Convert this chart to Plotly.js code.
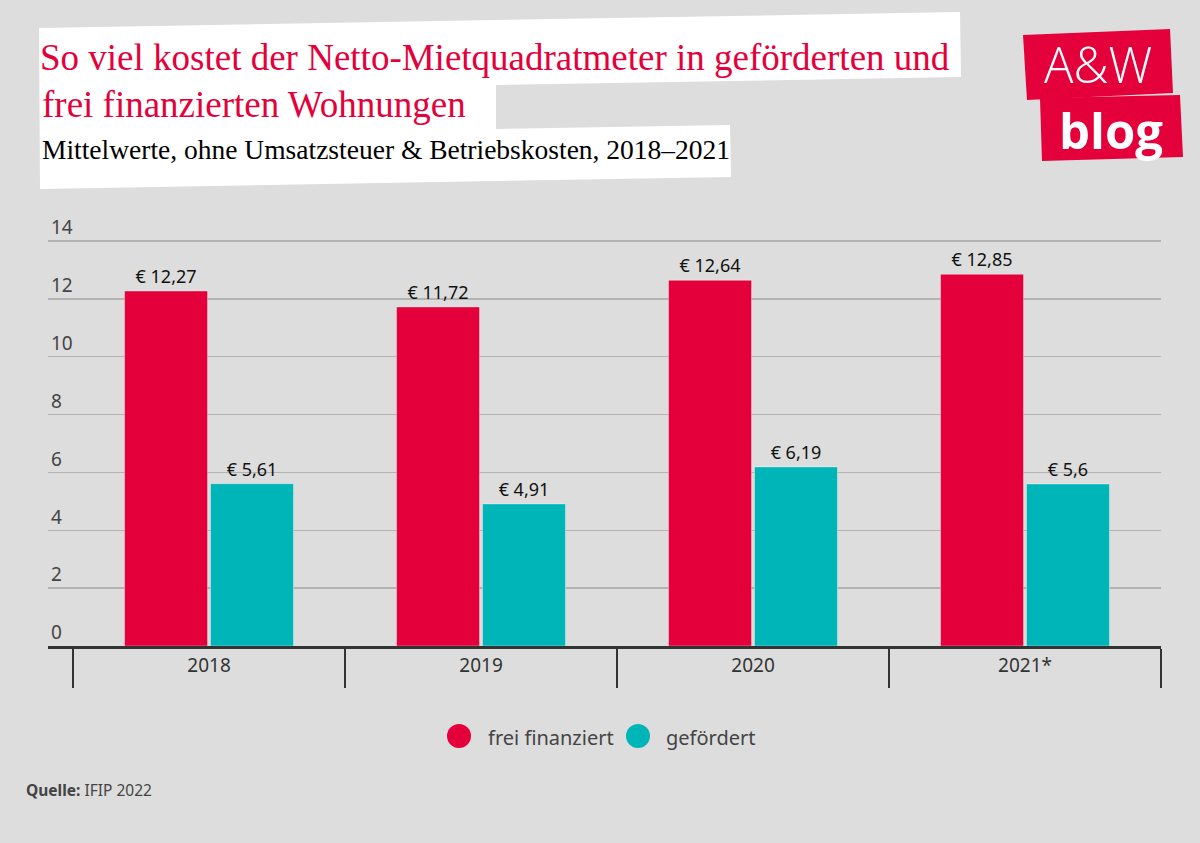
<!DOCTYPE html>
<html>
<head>
<meta charset="utf-8">
<script src="https://cdn.plot.ly/plotly-3.0.1.min.js"></script>
<style>html,body{margin:0;padding:0;background:#dddddd;}#chart{width:1200px;height:843px;}</style>
</head>
<body>
<div id="chart"></div>
<script>
// ---- data ----
const years = ["2018", "2019", "2020", "2021*"];
const freiFinanziert = [12.27, 11.72, 12.64, 12.85];
const gefoerdert = [5.61, 4.91, 6.19, 5.6];
const seriesNames = ["frei finanziert", "gefördert"];
const yTicks = [0, 2, 4, 6, 8, 10, 12, 14];

const titleLine1 = "So viel kostet der Netto-Mietquadratmeter in geförderten und";
const titleLine2 = "frei finanzierten Wohnungen";
const subtitle = "Mittelwerte, ohne Umsatzsteuer &amp; Betriebskosten, 2018–2021";
const source = "<b>Quelle:</b> IFIP 2022";

// ---- styling ----
const RED = "#e4003a";
const TEAL = "#00b5b8";
const W = 1200, H = 843;
const L = 48, R = 1161, T = 211, B = 646;
const Y14 = 241;                       // pixel row of the value 14
const yMax = 14 * (B - T) / (B - Y14);  // axis range top so that 14 sits at Y14
const px = x => (x - L) / (R - L);
const py = y => (B - y) / (B - T);
const fmt = v => "€ " + String(v).replace(".", ",");
const pathFrom = pts => pts.map((p, i) => (i ? "L" : "M") + px(p[0]).toFixed(5) + "," + py(p[1]).toFixed(5)).join(" ") + " Z";

const labelFont = {family: "Noto Sans, sans-serif", size: 18, color: "#111"};

const traces = [
  {
    type: "bar", name: seriesNames[0], x: years, y: freiFinanziert,
    text: freiFinanziert.map(fmt), textposition: "outside", cliponaxis: false,
    textfont: labelFont, marker: {color: RED, line: {color: "rgba(255,255,255,0.35)", width: 1}},
    hoverinfo: "skip", showlegend: false
  },
  {
    type: "bar", name: seriesNames[1], x: years, y: gefoerdert,
    text: gefoerdert.map(fmt), textposition: "outside", cliponaxis: false,
    textfont: labelFont, marker: {color: TEAL, line: {color: "rgba(255,255,255,0.35)", width: 1}},
    hoverinfo: "skip", showlegend: false
  }
];

const shapes = [
  // white title box
  {type: "path", xref: "paper", yref: "paper", layer: "below",
   path: pathFrom([[39,28],[960,12],[961,77],[496,85],[496,129],[730,125],[731,177],[40,189]]),
   fillcolor: "#ffffff", line: {width: 0}},
  // logo boxes
  {type: "path", xref: "paper", yref: "paper",
   path: pathFrom([[1023,35],[1170,29],[1173,93],[1027,100]]),
   fillcolor: RED, line: {width: 0}},
  {type: "path", xref: "paper", yref: "paper",
   path: pathFrom([[1040,98],[1180,95],[1183,157],[1042,161]]),
   fillcolor: RED, line: {width: 0}},
  // legend circles
  {type: "circle", xref: "paper", yref: "paper", x0: px(447), x1: px(471), y0: py(724), y1: py(748),
   fillcolor: RED, line: {width: 0}},
  {type: "circle", xref: "paper", yref: "paper", x0: px(626), x1: px(650), y0: py(724), y1: py(748),
   fillcolor: TEAL, line: {width: 0}}
];

const annotations = [
  {xref: "paper", yref: "paper", x: px(40), y: py(118), xanchor: "left", yanchor: "bottom", yshift: -9,
   text: titleLine2, showarrow: false, font: {family: "Liberation Serif, serif", size: 37, color: RED}},
  {xref: "paper", yref: "paper", x: px(40), y: py(160), xanchor: "left", yanchor: "bottom", yshift: -7,
   text: subtitle, showarrow: false, font: {family: "Liberation Serif, serif", size: 27.5, color: "#000"}},
  {xref: "paper", yref: "paper", x: px(1098), y: py(64), xanchor: "center", yanchor: "middle",
   text: "A&amp;W", showarrow: false, font: {family: "Open Sans, sans-serif", size: 49, color: "#fff", weight: 300}},
  {xref: "paper", yref: "paper", x: px(1111), y: py(130), xanchor: "center", yanchor: "middle",
   text: "<b>blog</b>", showarrow: false, font: {family: "Open Sans, sans-serif", size: 49, color: "#fff", weight: 800}},
  {xref: "paper", yref: "paper", x: px(486), y: py(737), xanchor: "left", yanchor: "middle",
   text: seriesNames[0], showarrow: false, font: {family: "Noto Sans, sans-serif", size: 20, color: "#444"}},
  {xref: "paper", yref: "paper", x: px(664), y: py(737), xanchor: "left", yanchor: "middle",
   text: seriesNames[1], showarrow: false, font: {family: "Noto Sans, sans-serif", size: 20, color: "#444"}},
  {xref: "paper", yref: "paper", x: px(24), y: py(790), xanchor: "left", yanchor: "middle",
   text: source, showarrow: false, font: {family: "Noto Sans, sans-serif", size: 15.5, color: "#444"}}
];

const layout = {
  width: W, height: H,
  margin: {l: L, r: W - R, t: T, b: H - B, pad: 0},
  paper_bgcolor: "#dddddd", plot_bgcolor: "#dddddd",
  title: {text: titleLine1, x: 40 / W, xref: "container", xanchor: "left",
          y: 1 - 67 / H, yref: "container", yanchor: "bottom", pad: {b: -3},
          font: {family: "Liberation Serif, serif", size: 37, color: RED}},
  barmode: "group", bargap: 0.368, bargroupgap: 0.035,
  showlegend: false,
  xaxis: {
    type: "category", range: [-0.592, 3.5], fixedrange: true,
    showline: true, linecolor: "#333", linewidth: 3,
    ticks: "outside", tickson: "boundaries", ticklen: 39, tickwidth: 1.5, tickcolor: "#333",
    showgrid: false, zeroline: false,
    tickfont: {family: "Noto Sans, sans-serif", size: 19, color: "#333"}
  },
  yaxis: {
    range: [0, yMax], tickvals: yTicks, ticktext: yTicks.map(String), fixedrange: true,
    showgrid: true, gridcolor: "#b3b3b3", gridwidth: 1.5, zeroline: false, showline: false,
    ticks: "", ticklabelposition: "inside top",
    tickfont: {family: "Noto Sans, sans-serif", size: 19, color: "#444"}
  },
  shapes: shapes,
  annotations: annotations
};

Plotly.newPlot("chart", traces, layout, {displayModeBar: false, staticPlot: true});
</script>
</body>
</html>
